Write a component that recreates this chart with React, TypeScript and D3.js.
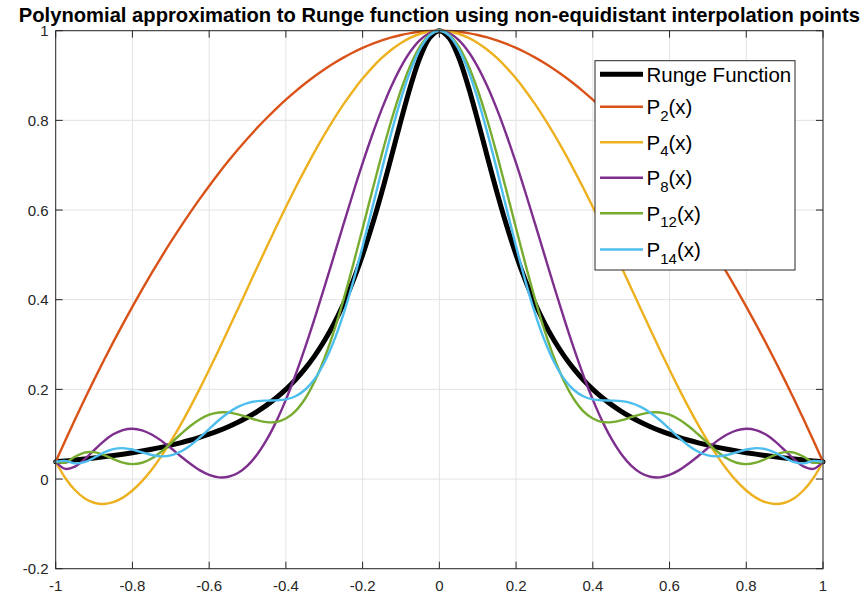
import React from "react";
import * as d3 from "d3";

const xs = [-1, -0.975, -0.95, -0.925, -0.9, -0.875, -0.85, -0.825, -0.8, -0.775, -0.75, -0.725, -0.7, -0.675, -0.65, -0.625, -0.6, -0.575, -0.55, -0.525, -0.5, -0.475, -0.45, -0.425, -0.4, -0.375, -0.35, -0.325, -0.3, -0.275, -0.25, -0.225, -0.2, -0.175, -0.15, -0.125, -0.1, -0.075, -0.05, -0.025, 0, 0.025, 0.05, 0.075, 0.1, 0.125, 0.15, 0.175, 0.2, 0.225, 0.25, 0.275, 0.3, 0.325, 0.35, 0.375, 0.4, 0.425, 0.45, 0.475, 0.5, 0.525, 0.55, 0.575, 0.6, 0.625, 0.65, 0.675, 0.7, 0.725, 0.75, 0.775, 0.8, 0.825, 0.85, 0.875, 0.9, 0.925, 0.95, 0.975, 1];

const runge = [0.0385, 0.0404, 0.0424, 0.0447, 0.0471, 0.0497, 0.0525, 0.0555, 0.0588, 0.0624, 0.0664, 0.0707, 0.0755, 0.0807, 0.0865, 0.0929, 0.1, 0.1079, 0.1168, 0.1267, 0.1379, 0.1506, 0.1649, 0.1813, 0.2, 0.2215, 0.2462, 0.2747, 0.3077, 0.3459, 0.3902, 0.4414, 0.5, 0.5664, 0.64, 0.7191, 0.8, 0.8767, 0.9412, 0.9846, 1, 0.9846, 0.9412, 0.8767, 0.8, 0.7191, 0.64, 0.5664, 0.5, 0.4414, 0.3902, 0.3459, 0.3077, 0.2747, 0.2462, 0.2215, 0.2, 0.1813, 0.1649, 0.1506, 0.1379, 0.1267, 0.1168, 0.1079, 0.1, 0.0929, 0.0865, 0.0807, 0.0755, 0.0707, 0.0664, 0.0624, 0.0588, 0.0555, 0.0525, 0.0497, 0.0471, 0.0447, 0.0424, 0.0404, 0.0385];

const p2 = [0.0385, 0.0859, 0.1322, 0.1773, 0.2212, 0.2638, 0.3053, 0.3456, 0.3846, 0.4225, 0.4591, 0.4946, 0.5288, 0.5619, 0.5938, 0.6244, 0.6538, 0.6821, 0.7091, 0.735, 0.7596, 0.7831, 0.8053, 0.8263, 0.8462, 0.8648, 0.8822, 0.8984, 0.9135, 0.9273, 0.9399, 0.9513, 0.9615, 0.9706, 0.9784, 0.985, 0.9904, 0.9946, 0.9976, 0.9994, 1, 0.9994, 0.9976, 0.9946, 0.9904, 0.985, 0.9784, 0.9706, 0.9615, 0.9513, 0.9399, 0.9273, 0.9135, 0.8984, 0.8822, 0.8648, 0.8462, 0.8263, 0.8053, 0.7831, 0.7596, 0.735, 0.7091, 0.6821, 0.6538, 0.6244, 0.5938, 0.5619, 0.5288, 0.4946, 0.4591, 0.4225, 0.3846, 0.3456, 0.3053, 0.2638, 0.2212, 0.1773, 0.1322, 0.0859, 0.0385];

const p4 = [0.0385, 0.0023, -0.0245, -0.0427, -0.0529, -0.0557, -0.0517, -0.0415, -0.0256, -0.0046, 0.0209, 0.0506, 0.0839, 0.1203, 0.1593, 0.2005, 0.2436, 0.288, 0.3334, 0.3795, 0.4257, 0.4719, 0.5177, 0.5628, 0.6068, 0.6496, 0.6908, 0.7302, 0.7676, 0.8028, 0.8356, 0.8657, 0.8932, 0.9177, 0.9392, 0.9576, 0.9728, 0.9846, 0.9932, 0.9983, 1, 0.9983, 0.9932, 0.9846, 0.9728, 0.9576, 0.9392, 0.9177, 0.8932, 0.8657, 0.8356, 0.8028, 0.7676, 0.7302, 0.6908, 0.6496, 0.6068, 0.5628, 0.5177, 0.4719, 0.4257, 0.3795, 0.3334, 0.288, 0.2436, 0.2005, 0.1593, 0.1203, 0.0839, 0.0506, 0.0209, -0.0046, -0.0256, -0.0415, -0.0517, -0.0557, -0.0529, -0.0427, -0.0245, 0.0023, 0.0385];

const p8 = [0.0385, 0.0226, 0.0276, 0.0439, 0.0644, 0.0841, 0.0997, 0.1093, 0.1123, 0.1087, 0.0994, 0.0857, 0.0692, 0.0515, 0.0345, 0.0198, 0.0092, 0.0038, 0.005, 0.0135, 0.03, 0.0547, 0.0877, 0.1286, 0.1771, 0.2321, 0.2929, 0.3582, 0.4267, 0.497, 0.5678, 0.6374, 0.7044, 0.7674, 0.825, 0.876, 0.9194, 0.9541, 0.9794, 0.9948, 1, 0.9948, 0.9794, 0.9541, 0.9194, 0.876, 0.825, 0.7674, 0.7044, 0.6374, 0.5678, 0.497, 0.4267, 0.3582, 0.2929, 0.2321, 0.1771, 0.1286, 0.0877, 0.0547, 0.03, 0.0135, 0.005, 0.0038, 0.0092, 0.0198, 0.0345, 0.0515, 0.0692, 0.0857, 0.0994, 0.1087, 0.1123, 0.1093, 0.0997, 0.0841, 0.0644, 0.0439, 0.0276, 0.0226, 0.0385];

const p12 = [0.0385, 0.0369, 0.0496, 0.059, 0.0599, 0.0538, 0.0446, 0.0367, 0.0333, 0.0363, 0.0459, 0.061, 0.0796, 0.0993, 0.1178, 0.1329, 0.1434, 0.1485, 0.1485, 0.1444, 0.1379, 0.1313, 0.1269, 0.1273, 0.1349, 0.1516, 0.179, 0.2179, 0.2682, 0.3293, 0.3997, 0.4772, 0.5592, 0.6427, 0.7241, 0.8002, 0.8677, 0.9236, 0.9654, 0.9912, 1, 0.9912, 0.9654, 0.9236, 0.8677, 0.8002, 0.7241, 0.6427, 0.5592, 0.4772, 0.3997, 0.3293, 0.2682, 0.2179, 0.179, 0.1516, 0.1349, 0.1273, 0.1269, 0.1313, 0.1379, 0.1444, 0.1485, 0.1485, 0.1434, 0.1329, 0.1178, 0.0993, 0.0796, 0.061, 0.0459, 0.0363, 0.0333, 0.0367, 0.0446, 0.0538, 0.0599, 0.059, 0.0496, 0.0369, 0.0385];

const p14 = [0.0385, 0.0404, 0.035, 0.0376, 0.0474, 0.0588, 0.0667, 0.0689, 0.0658, 0.0596, 0.0536, 0.0506, 0.0527, 0.0608, 0.0744, 0.0921, 0.1118, 0.1312, 0.148, 0.161, 0.1695, 0.1737, 0.175, 0.1755, 0.1777, 0.1846, 0.1991, 0.2234, 0.2593, 0.3076, 0.368, 0.4393, 0.5189, 0.6037, 0.6897, 0.7726, 0.8478, 0.9114, 0.9596, 0.9898, 1, 0.9898, 0.9596, 0.9114, 0.8478, 0.7726, 0.6897, 0.6037, 0.5189, 0.4393, 0.368, 0.3076, 0.2593, 0.2234, 0.1991, 0.1846, 0.1777, 0.1755, 0.175, 0.1737, 0.1695, 0.161, 0.148, 0.1312, 0.1118, 0.0921, 0.0744, 0.0608, 0.0527, 0.0506, 0.0536, 0.0596, 0.0658, 0.0689, 0.0667, 0.0588, 0.0474, 0.0376, 0.035, 0.0404, 0.0385];

const xTicks = [-1, -0.8, -0.6, -0.4, -0.2, 0, 0.2, 0.4, 0.6, 0.8, 1];
const xTickLabels = ["-1", "-0.8", "-0.6", "-0.4", "-0.2", "0", "0.2", "0.4", "0.6", "0.8", "1"];
const yTicks = [-0.2, 0, 0.2, 0.4, 0.6, 0.8, 1];
const yTickLabels = ["-0.2", "0", "0.2", "0.4", "0.6", "0.8", "1"];

const seriesNames = ["Runge Function", "P", "P", "P", "P", "P"];
const seriesSubs = ["", "2", "4", "8", "12", "14"];
const seriesColors = ["#000000", "#D95319", "#EDB120", "#7E2F8E", "#77AC30", "#4DBEEE"];
const seriesWidths = [5, 2.4, 2.4, 2.4, 2.4, 2.4];
const seriesData = [runge, p2, p4, p8, p12, p14];

const title = "Polynomial approximation to Runge function using non-equidistant interpolation points";

export default function App() {
  const W = 868, H = 592;
  const L = 55.7, R = 823, T = 30.7, B = 568.7;
  const x = d3.scaleLinear().domain([-1, 1]).range([L, R]);
  const y = d3.scaleLinear().domain([-0.2, 1]).range([B, T]);
  const line = d3
    .line<number>()
    .x((_, i) => x(xs[i]))
    .y((d) => y(d))
    .curve(d3.curveCatmullRom.alpha(0.5));
  const font = "'Liberation Sans', Arial, Helvetica, sans-serif";
  const axisColor = "#262626";
  const gridColor = "#e3e3e3";
  const tickLen = 7;
  const legendRows = [74.3, 106.7, 142.3, 177.7, 213.3, 249.5];

  return (
    <svg
      width={W}
      height={H}
      viewBox={`0 0 ${W} ${H}`}
      style={{ position: "fixed", left: 0, top: 0, background: "#fff" }}
      fontFamily={font}
    >
      <rect x={0} y={0} width={W} height={H} fill="#fff" />
      {xTicks.map((t) => (
        <line key={"gx" + t} x1={x(t)} x2={x(t)} y1={T} y2={B} stroke={gridColor} strokeWidth={1} />
      ))}
      {yTicks.map((t) => (
        <line key={"gy" + t} x1={L} x2={R} y1={y(t)} y2={y(t)} stroke={gridColor} strokeWidth={1} />
      ))}
      {seriesData.map((d, i) => (
        <path
          key={"s" + i}
          d={line(d) || ""}
          fill="none"
          stroke={seriesColors[i]}
          strokeWidth={seriesWidths[i]}
          strokeLinejoin="round"
          strokeLinecap="round"
        />
      ))}
      <rect x={L} y={T} width={R - L} height={B - T} fill="none" stroke={axisColor} strokeWidth={1} />
      {xTicks.map((t) => (
        <g key={"tx" + t}>
          <line x1={x(t)} x2={x(t)} y1={B} y2={B - tickLen} stroke={axisColor} />
          <line x1={x(t)} x2={x(t)} y1={T} y2={T + tickLen} stroke={axisColor} />
        </g>
      ))}
      {yTicks.map((t) => (
        <g key={"ty" + t}>
          <line x1={L} x2={L + tickLen} y1={y(t)} y2={y(t)} stroke={axisColor} />
          <line x1={R} x2={R - tickLen} y1={y(t)} y2={y(t)} stroke={axisColor} />
        </g>
      ))}
      {xTicks.map((t, i) => (
        <text key={"lx" + t} x={x(t)} y={590.5} textAnchor="middle" fontSize={15} fill={axisColor}>
          {xTickLabels[i]}
        </text>
      ))}
      {yTicks.map((t, i) => (
        <text key={"ly" + t} x={48.5} y={y(t) + 5.5} textAnchor="end" fontSize={15} fill={axisColor}>
          {yTickLabels[i]}
        </text>
      ))}
      <text x={(L + R) / 2} y={21.5} textAnchor="middle" fontSize={20.2} fontWeight="bold" fill="#000">
        {title}
      </text>
      <rect x={595} y={60.7} width={200} height={209.3} fill="#fff" stroke={axisColor} strokeWidth={1} />
      {seriesNames.map((n, i) => (
        <g key={"lg" + i}>
          <line
            x1={600}
            x2={643}
            y1={legendRows[i]}
            y2={legendRows[i]}
            stroke={seriesColors[i]}
            strokeWidth={seriesWidths[i]}
          />
          <text x={646.5} y={legendRows[i] + 7.5} fontSize={20.5} fill="#000">
            {n}
            {seriesSubs[i] ? (
              <>
                <tspan fontSize={15} dy={6.5}>{seriesSubs[i]}</tspan>
                <tspan dy={-6.5}>(x)</tspan>
              </>
            ) : null}
          </text>
        </g>
      ))}
    </svg>
  );
}
